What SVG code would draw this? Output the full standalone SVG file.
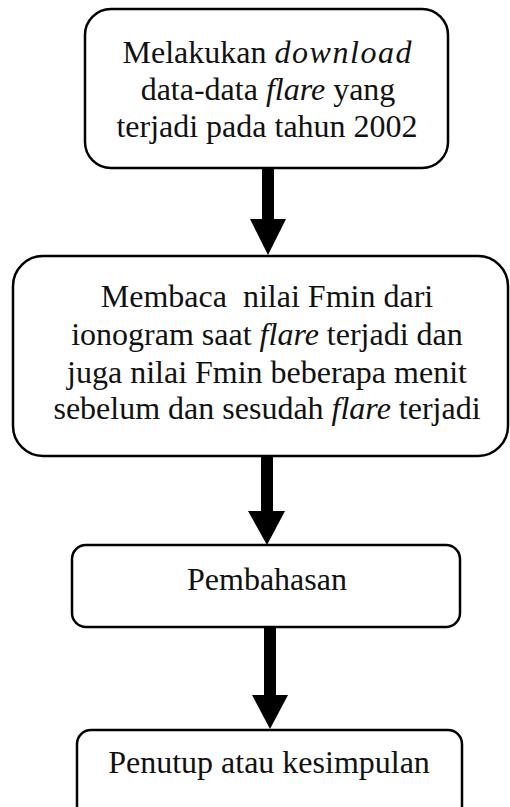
<svg xmlns="http://www.w3.org/2000/svg" width="510" height="807" viewBox="0 0 510 807">
<style>
.box{fill:#fff;stroke:#000;stroke-width:2.5}
.t{font-family:"Liberation Serif","Times New Roman",serif;font-size:32px;fill:#111;text-anchor:middle}
.i{font-style:italic}
.shaft{fill:#000}
</style>
<rect width="510" height="807" fill="#fff"/>
<g id="connectors">
<rect class="shaft" x="262" y="168" width="12" height="54"/>
<polygon class="shaft" points="250,219 286,219 268,255"/>
<rect class="shaft" x="261" y="455" width="12" height="60"/>
<polygon class="shaft" points="248,511 285,511 267,545"/>
<rect class="shaft" x="264" y="627" width="12" height="72"/>
<polygon class="shaft" points="252,695 288,695 270,729"/>
</g>
<g id="node1">
<rect class="box" x="85" y="9" width="363" height="159" rx="26"/>
<text class="t" x="267" y="63" font-size="32.5">Melakukan <tspan class="i" textLength="137">download</tspan></text>
<text class="t" x="268" y="100" font-size="32.5">data-data <tspan class="i">flare</tspan> yang</text>
<text class="t" x="267" y="137" font-size="32.5">terjadi pada tahun 2002</text>
</g>
<g id="node2">
<rect class="box" x="13" y="256" width="495" height="200" rx="30"/>
<text class="t" x="267" y="307" xml:space="preserve">Membaca  nilai Fmin dari</text>
<text class="t" x="267" y="345">ionogram saat <tspan class="i">flare</tspan> terjadi dan</text>
<text class="t" x="267" y="383">juga nilai Fmin beberapa menit</text>
<text class="t" x="267" y="419">sebelum dan sesudah <tspan class="i">flare</tspan> terjadi</text>
</g>
<g id="node3">
<rect class="box" x="72" y="545" width="388" height="82" rx="14"/>
<text class="t" x="267" y="590">Pembahasan</text>
</g>
<g id="node4">
<rect class="box" x="77" y="730" width="385" height="90" rx="14"/>
<text class="t" x="269" y="773">Penutup atau kesimpulan</text>
</g>
</svg>
